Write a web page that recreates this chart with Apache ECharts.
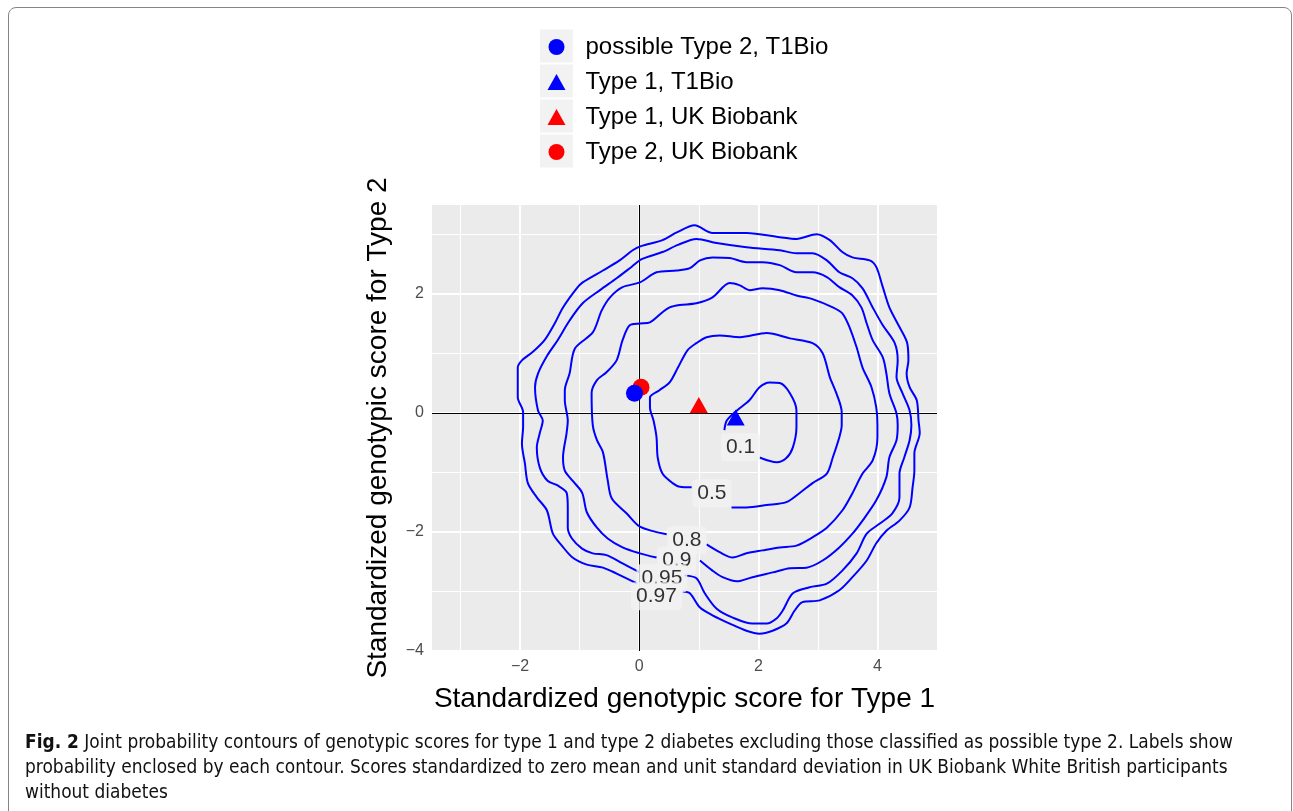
<!DOCTYPE html>
<html>
<head>
<meta charset="utf-8">
<script src="https://cdn.jsdelivr.net/npm/echarts@6/dist/echarts.min.js"></script>
<style>
  html, body { margin: 0; padding: 0; background: #fff; }
  #chart { position: absolute; left: 0; top: 0; width: 1293px; height: 811px; }
  #frame { position: absolute; left: 8px; top: 7px; width: 1284px; height: 900px;
           border: 1.5px solid #858585; border-radius: 8px; pointer-events: none; box-sizing: border-box; }
  .cap { position: absolute; left: 25px; white-space: nowrap; font-family: 'DejaVu Sans Condensed', 'DejaVu Sans', sans-serif;
         font-size: 20px; line-height: 25px; color: #111; transform-origin: 0 50%; }
</style>
</head>
<body>
<div id="chart"></div>
<div id="frame"></div>
<div class="cap" id="cap1" style="top:729px"><b>Fig. 2</b> Joint probability contours of genotypic scores for type 1 and type 2 diabetes excluding those classified as possible type 2. Labels show</div>
<div class="cap" id="cap2" style="top:754px">probability enclosed by each contour. Scores standardized to zero mean and unit standard deviation in UK Biobank White British participants</div>
<div class="cap" id="cap3" style="top:779px">without diabetes</div>
<script>
// ---- axis ticks ----
const xTicks = [-2, 0, 2, 4];
const yTicks = [-4, -2, 0, 2];
const xMinor = [-3, -1, 1, 3];
const yMinor = [-3, -1, 1, 3];
const xRange = [-3.48, 5.0];
const yRange = [-4.0, 3.49];

// ---- points ----
const pointNames = ['possible Type 2, T1Bio', 'Type 1, T1Bio', 'Type 1, UK Biobank', 'Type 2, UK Biobank'];
const possibleT2_T1Bio = [[-0.08, 0.33]];
const type1_T1Bio = [[1.62, -0.08]];
const type1_UKB = [[1.00, 0.13]];
const type2_UKB = [[0.03, 0.43]];

// ---- contours (each open at its label) ----
const c010 = [[1.43,-0.29],[1.47,-0.13],[1.64,0.04],[1.85,0.21],[2.02,0.43],[2.19,0.51],[2.36,0.50],[2.53,0.33],[2.64,0.04],[2.64,-0.24],[2.58,-0.58],[2.47,-0.76],[2.31,-0.83],[2.02,-0.75]];
const c050 = [[0.88,-1.25],[0.68,-1.24],[0.56,-1.18],[0.39,-1.02],[0.31,-0.75],[0.29,-0.41],[0.24,-0.13],[0.18,0.09],[0.18,0.26],[0.34,0.38],[0.51,0.51],[0.65,0.76],[0.81,1.05],[0.96,1.17],[1.13,1.27],[1.35,1.30],[1.69,1.27],[2.14,1.34],[2.53,1.25],[2.91,1.17],[3.08,1.00],[3.20,0.60],[3.31,0.33],[3.40,0.01],[3.40,-0.21],[3.36,-0.41],[3.25,-0.75],[3.15,-1.02],[2.91,-1.18],[2.69,-1.35],[2.47,-1.50],[2.14,-1.55],[1.80,-1.59],[1.55,-1.59]];
const c080 = [[0.46,-2.04],[0.01,-1.91],[-0.21,-1.69],[-0.46,-1.44],[-0.53,-1.13],[-0.61,-0.66],[-0.71,-0.46],[-0.78,-0.21],[-0.80,0.33],[-0.71,0.55],[-0.55,0.68],[-0.38,0.88],[-0.28,1.22],[-0.16,1.47],[0.01,1.50],[0.18,1.52],[0.39,1.69],[0.51,1.77],[0.68,1.81],[0.96,1.84],[1.23,1.94],[1.52,2.18],[1.69,2.14],[1.85,2.06],[2.07,2.09],[2.36,2.06],[2.64,1.97],[2.91,1.91],[3.25,1.77],[3.41,1.67],[3.53,1.44],[3.65,1.10],[3.75,0.76],[3.90,0.43],[3.98,0.09],[4.00,-0.21],[4.00,-0.41],[3.92,-0.80],[3.75,-1.02],[3.58,-1.35],[3.41,-1.64],[3.15,-1.93],[2.91,-2.09],[2.64,-2.23],[2.36,-2.26],[2.07,-2.31],[1.80,-2.36],[1.57,-2.43],[1.35,-2.34],[1.13,-2.21]];
const c090 = [[0.29,-2.43],[0.01,-2.36],[-0.28,-2.26],[-0.53,-2.11],[-0.71,-1.93],[-0.88,-1.67],[-0.96,-1.34],[-1.12,-1.14],[-1.25,-0.97],[-1.28,-0.75],[-1.22,-0.34],[-1.20,-0.13],[-1.25,0.21],[-1.25,0.38],[-1.17,0.66],[-1.08,1.08],[-0.78,1.35],[-0.63,1.72],[-0.49,1.94],[-0.28,2.11],[0.01,2.19],[0.29,2.36],[0.63,2.39],[0.85,2.43],[1.02,2.56],[1.23,2.61],[1.52,2.60],[1.80,2.53],[2.07,2.53],[2.36,2.48],[2.64,2.36],[2.91,2.36],[3.15,2.28],[3.36,2.11],[3.58,1.97],[3.73,1.77],[3.82,1.50],[3.92,1.22],[4.09,0.93],[4.15,0.66],[4.20,0.33],[4.32,-0.01],[4.34,-0.21],[4.32,-0.46],[4.20,-0.75],[4.15,-1.08],[3.98,-1.47],[3.75,-1.81],[3.58,-2.03],[3.36,-2.26],[3.08,-2.48],[2.81,-2.60],[2.53,-2.61],[2.24,-2.68],[1.90,-2.76],[1.64,-2.83],[1.40,-2.76],[1.23,-2.65],[1.02,-2.48]];
const c095 = [[0.01,-2.68],[-0.28,-2.53],[-0.55,-2.39],[-0.78,-2.36],[-0.96,-2.28],[-1.13,-2.11],[-1.20,-1.93],[-1.20,-1.59],[-1.22,-1.34],[-1.37,-1.22],[-1.54,-1.14],[-1.67,-0.92],[-1.72,-0.58],[-1.67,-0.34],[-1.62,-0.13],[-1.70,0.04],[-1.75,0.43],[-1.70,0.66],[-1.54,0.97],[-1.37,1.22],[-1.17,1.55],[-0.95,1.84],[-0.66,2.06],[-0.38,2.26],[-0.13,2.45],[0.04,2.58],[0.39,2.70],[0.65,2.82],[0.96,2.92],[1.30,2.85],[1.80,2.78],[2.36,2.73],[2.64,2.68],[2.91,2.68],[3.15,2.56],[3.36,2.36],[3.58,2.26],[3.75,2.09],[3.92,1.77],[4.09,1.47],[4.29,1.17],[4.34,0.88],[4.32,0.60],[4.42,0.33],[4.54,0.04],[4.57,-0.21],[4.54,-0.46],[4.45,-0.75],[4.37,-1.02],[4.37,-1.42],[4.25,-1.69],[4.04,-1.86],[3.82,-2.03],[3.65,-2.36],[3.41,-2.65],[3.15,-2.87],[2.86,-2.93],[2.58,-3.03],[2.41,-3.32],[2.31,-3.45],[2.14,-3.54],[1.90,-3.54],[1.57,-3.44],[1.30,-3.29],[1.10,-3.03],[0.96,-2.78],[0.76,-2.73]];
const c097 = [[-0.03,-2.87],[-0.38,-2.70],[-0.61,-2.60],[-0.88,-2.55],[-1.12,-2.43],[-1.30,-2.23],[-1.45,-2.03],[-1.55,-1.64],[-1.72,-1.42],[-1.87,-1.18],[-1.92,-0.85],[-1.97,-0.51],[-1.95,-0.24],[-1.95,0.01],[-2.04,0.26],[-2.04,0.76],[-1.97,0.88],[-1.79,1.02],[-1.59,1.22],[-1.42,1.50],[-1.28,1.77],[-1.05,2.09],[-0.95,2.19],[-0.61,2.39],[-0.33,2.56],[-0.11,2.73],[0.03,2.80],[0.39,2.90],[0.63,3.03],[0.93,3.15],[1.23,3.02],[1.80,3.02],[2.36,2.95],[2.64,2.92],[2.98,3.00],[3.20,2.90],[3.41,2.70],[3.58,2.61],[3.87,2.56],[3.98,2.45],[4.09,2.11],[4.20,1.77],[4.37,1.44],[4.50,1.17],[4.52,0.88],[4.49,0.66],[4.54,0.43],[4.66,0.21],[4.69,-0.13],[4.71,-0.34],[4.62,-0.68],[4.62,-0.97],[4.59,-1.25],[4.54,-1.59],[4.37,-1.81],[4.15,-1.98],[3.98,-2.19],[3.82,-2.48],[3.58,-2.76],[3.36,-2.98],[3.03,-3.15],[2.74,-3.18],[2.61,-3.32],[2.47,-3.54],[2.24,-3.66],[2.02,-3.71],[1.80,-3.66],[1.52,-3.54],[1.23,-3.40],[1.02,-3.27],[0.85,-3.03],[0.73,-3.00]];
const contourNames = ['0.1', '0.5', '0.8', '0.9', '0.95', '0.97'];
const contourData = [c010, c050, c080, c090, c095, c097];
const labelPos = [[1.70,-0.58],[1.22,-1.35],[0.80,-2.14],[0.63,-2.48],[0.38,-2.78],[0.29,-3.08]];

const FONT = "'Liberation Sans', Arial, Helvetica, sans-serif";
const fmt = v => String(v).replace('-', '\u2212');

const chart = echarts.init(document.getElementById('chart'), null, {renderer: 'canvas'});

const gridLines = [];
xMinor.forEach(v => gridLines.push({xAxis: v, lineStyle: {color: '#fff', width: 1, type: 'solid'}}));
yMinor.forEach(v => gridLines.push({yAxis: v, lineStyle: {color: '#fff', width: 1, type: 'solid'}}));
xTicks.forEach(v => gridLines.push({xAxis: v, lineStyle: {color: '#fff', width: 2, type: 'solid'}}));
yTicks.forEach(v => gridLines.push({yAxis: v, lineStyle: {color: '#fff', width: 2, type: 'solid'}}));
gridLines.push({xAxis: 0, lineStyle: {color: '#000', width: 1, type: 'solid'}});
gridLines.push({yAxis: 0, lineStyle: {color: '#000', width: 1, type: 'solid'}});

const series = [];
series.push({
  type: 'scatter', name: '_grid', data: [[0, 0]], symbolSize: 0, silent: true, z: 1,
  markLine: { silent: true, symbol: 'none', animation: false, label: {show: false}, z: 1,
              lineStyle: {type: 'solid'}, data: gridLines }
});
contourData.forEach((d, i) => series.push({
  type: 'line', name: 'c' + contourNames[i], data: d, showSymbol: false, symbol: 'none',
  smooth: 0.3, lineStyle: {color: '#0000FF', width: 2}, silent: true, z: 3
}));
series.push({
  type: 'scatter', name: '_labels', z: 4, silent: true, symbolSize: 1,
  itemStyle: {color: 'rgba(0,0,0,0)'},
  data: labelPos.map((p, i) => [p[0], p[1], contourNames[i]]),
  label: { show: true, position: 'inside', formatter: p => p.value[2], fontFamily: FONT, fontSize: 21,
           color: '#000', backgroundColor: '#F3F3F3', padding: [4, 5, 3, 5], borderRadius: 4 }
});
const ptStyle = c => ({color: c, opacity: 1});
// draw red first so blue circle overlaps
series.push({ type: 'scatter', name: pointNames[3], data: type2_UKB, symbol: 'circle', symbolSize: 17, itemStyle: ptStyle('#FF0000'), z: 5 });
series.push({ type: 'scatter', name: pointNames[2], data: type1_UKB, symbol: 'triangle', symbolSize: [18, 16], itemStyle: ptStyle('#FF0000'), z: 5 });
series.push({ type: 'scatter', name: pointNames[0], data: possibleT2_T1Bio, symbol: 'circle', symbolSize: 17, itemStyle: ptStyle('#0000FF'), z: 5 });
series.push({ type: 'scatter', name: pointNames[1], data: type1_T1Bio, symbol: 'triangle', symbolSize: [18, 16], itemStyle: ptStyle('#0000FF'), z: 5 });

const rowCenters = [46, 81, 116, 151];

chart.setOption({
  animation: false,
  backgroundColor: 'transparent',
  grid: { left: 432, right: 356, top: 205, bottom: 160, show: true, backgroundColor: '#EBEBEB', borderWidth: 0 },
  xAxis: {
    type: 'value', min: xRange[0], max: xRange[1],
    name: 'Standardized genotypic score for Type 1', nameLocation: 'middle', nameGap: 34,
    nameTextStyle: {fontFamily: FONT, fontSize: 28, color: '#000'},
    axisLine: {show: false},
    axisTick: {show: true, length: 4, lineStyle: {color: '#333', width: 1}, customValues: xTicks},
    axisLabel: {fontFamily: FONT, fontSize: 16, color: '#4D4D4D', margin: 8, customValues: xTicks, formatter: fmt},
    splitLine: {show: false}
  },
  yAxis: {
    type: 'value', min: yRange[0], max: yRange[1],
    name: 'Standardized genotypic score for Type 2', nameLocation: 'middle', nameGap: 40,
    nameTextStyle: {fontFamily: FONT, fontSize: 28, color: '#000'},
    axisLine: {show: false},
    axisTick: {show: true, length: 4, lineStyle: {color: '#333', width: 1}, customValues: yTicks},
    axisLabel: {fontFamily: FONT, fontSize: 16, color: '#4D4D4D', margin: 8, customValues: yTicks, formatter: fmt},
    splitLine: {show: false}
  },
  legend: {
    data: pointNames, orient: 'vertical', left: 542.5, top: 30, padding: 5,
    itemWidth: 18, itemHeight: 16, itemGap: 11,
    textStyle: {fontFamily: FONT, fontSize: 24, color: '#000', lineHeight: 24, padding: [0, 0, 0, 15]},
    selectedMode: false
  },
  graphic: rowCenters.map(c => ({ type: 'rect', z: 0, silent: true,
    shape: {x: 540, y: c - 16.5, width: 33, height: 33}, style: {fill: '#F2F2F2'} })),
  series: series
});

// fit caption width
(function () {
  const c1 = document.getElementById('cap1');
  const w = c1.getBoundingClientRect().width;
  const s = 1208 / w;
  ['cap1', 'cap2', 'cap3'].forEach(id => { document.getElementById(id).style.transform = 'scaleX(' + s + ')'; });
})();
</script>
</body>
</html>
